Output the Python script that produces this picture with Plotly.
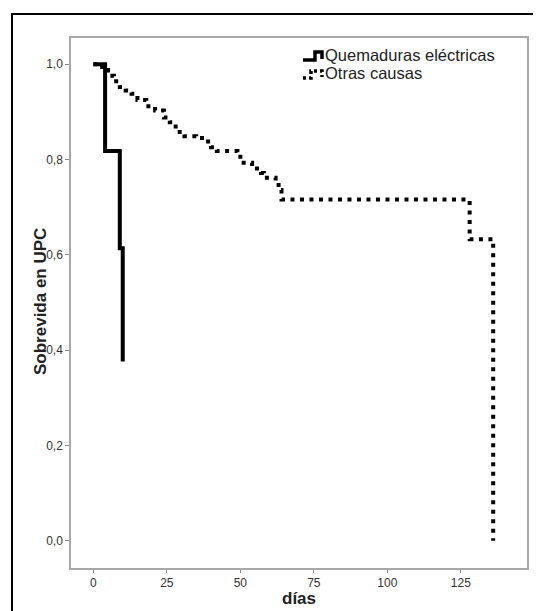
import plotly.graph_objects as go

# Kaplan-Meier data
elec_days = [0, 4, 9, 10]
elec_surv = [1.0, 0.818, 0.614, 0.376]

otras_days = [0, 3, 5, 7, 9, 11, 13, 15, 18, 21, 24, 26, 28, 31, 35, 38, 40, 42,
              49, 50, 54, 57, 58, 62, 63, 64, 128, 136]
otras_surv = [1.0, 0.988, 0.976, 0.964, 0.952, 0.945, 0.938, 0.925, 0.912, 0.903,
              0.888, 0.878, 0.858, 0.849, 0.845, 0.838, 0.826, 0.818, 0.806, 0.793,
              0.781, 0.772, 0.762, 0.752, 0.736, 0.716, 0.633, 0.0]

series_names = ["Quemaduras eléctricas", "Otras causas"]
x_title = "días"
y_title = "Sobrevida en UPC"
x_ticks = [0, 25, 50, 75, 100, 125]
y_ticks = [0.0, 0.2, 0.4, 0.6, 0.8, 1.0]
y_ticklabels = ["0,0", "0,2", "0,4", "0,6", "0,8", "1,0"]

# page has an 8px body margin, so the figure is drawn 8px in and 8px down
OFF = 8
W, H = 541 - OFF, 611 - OFF
L, R, T, B = 71 - OFF, 527 - OFF, 38 - OFF, 568 - OFF  # plot area (figure px)

fig = go.Figure()
fig.add_trace(go.Scatter(x=elec_days, y=elec_surv, mode="lines", line_shape="hv",
                         line=dict(color="black", width=4), name=series_names[0],
                         showlegend=False))
fig.add_trace(go.Scatter(x=otras_days, y=otras_surv, mode="lines", line_shape="hv",
                         line=dict(color="black", width=4, dash="4px,5.5px"),
                         name=series_names[1], showlegend=False))


def px(x):
    # page pixel -> paper
    return (x - OFF - L) / (R - L)


def py(y):
    return (B - (y - OFF)) / (B - T)


def path(points):
    return "M " + " L ".join(f"{px(a):.4f},{py(b):.4f}" for a, b in points)


shapes = [
    # outer black frame (partially visible)
    dict(type="path", xref="paper", yref="paper",
         path=path([(12, 640), (12, 14), (560, 14)]),
         line=dict(color="black", width=2)),
    # legend icons
    dict(type="path", xref="paper", yref="paper",
         path=path([(303, 60), (315, 60), (315, 52), (322, 52), (322, 59)]),
         line=dict(color="black", width=3.5)),
    dict(type="path", xref="paper", yref="paper",
         path=path([(303, 78), (311, 78), (311, 71), (322, 71), (322, 77)]),
         line=dict(color="black", width=3.5, dash="3px,3px")),
]

annotations = [
    dict(xref="paper", yref="paper", x=px(323), y=py(55), text=series_names[0],
         showarrow=False, xanchor="left", yanchor="middle",
         font=dict(family="Liberation Sans, Arial", size=16.5, color="#222")),
    dict(xref="paper", yref="paper", x=px(323), y=py(73), text=series_names[1],
         showarrow=False, xanchor="left", yanchor="middle",
         font=dict(family="Liberation Sans, Arial", size=16.5, color="#222")),
    dict(xref="paper", yref="paper", x=px(299), y=py(598), text="<b>" + x_title + "</b>",
         showarrow=False, xanchor="center", yanchor="middle",
         font=dict(family="Liberation Sans, Arial", size=17, color="#222")),
    dict(xref="paper", yref="paper", x=px(40), y=py(302), text="<b>" + y_title + "</b>",
         showarrow=False, xanchor="center", yanchor="middle", textangle=-90,
         font=dict(family="Liberation Sans, Arial", size=17, color="#222")),
]

fig.update_layout(
    width=W, height=H,
    margin=dict(l=L, r=W - R, t=T, b=H - B),
    paper_bgcolor="white", plot_bgcolor="white",
    font=dict(family="Liberation Sans, Arial", color="#222"),
    shapes=shapes, annotations=annotations,
    showlegend=False,
)
fig.update_xaxes(range=[-7.6, 147.5], tickvals=x_ticks, ticks="outside", ticklen=3,
                 tickcolor="#888", showline=True, mirror=True, linecolor="#a8a8a8",
                 linewidth=1.5, showgrid=False, zeroline=False, automargin=False,
                 tickfont=dict(size=12, color="#333"))
fig.update_yaxes(range=[-0.057, 1.055], tickvals=y_ticks, ticktext=y_ticklabels,
                 ticks="outside", ticklen=4, tickcolor="#888", showline=True,
                 mirror=True, linecolor="#a8a8a8", linewidth=1.5, showgrid=False,
                 zeroline=False, automargin=False,
                 tickfont=dict(size=12, color="#333"))

fig.write_html("out.html")
